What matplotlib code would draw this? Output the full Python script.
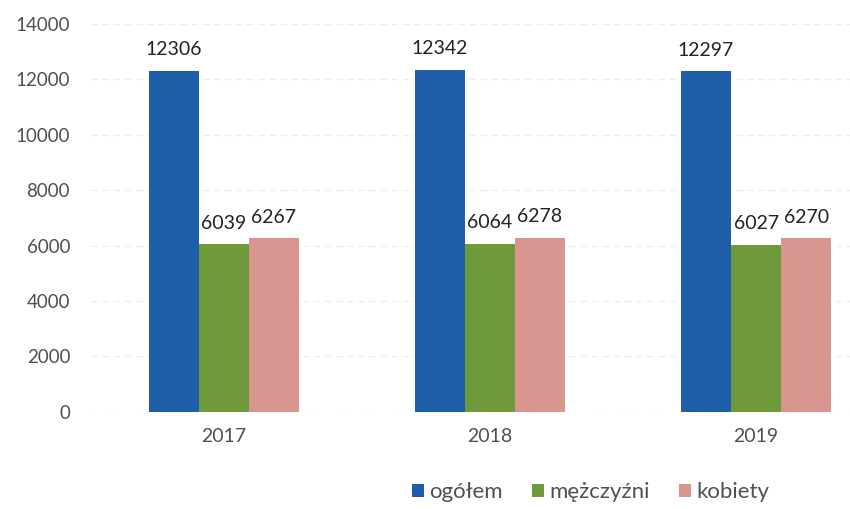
import matplotlib.pyplot as plt
import numpy as np

years = ['2017', '2018', '2019']
ogolem = [12306, 12342, 12297]
mezczyzni = [6039, 6064, 6027]
kobiety = [6267, 6278, 6270]

series = [
    ('ogółem', ogolem, '#1f5ea8'),
    ('mężczyźni', mezczyzni, '#6f9a3b'),
    ('kobiety', kobiety, '#d8968f'),
]

plt.rcParams['font.family'] = ['Lato', 'DejaVu Sans']
text_color = '#505050'

fig = plt.figure(figsize=(8.5, 5.09), dpi=100)
ax = fig.add_axes([0.107, 0.191, 0.939, 0.762])

x = np.arange(len(years))
w = 0.188
for i, (name, vals, col) in enumerate(series):
    pos = x + (i - 1) * w
    ax.bar(pos, vals, w, color=col, label=name, zorder=2)
    for px, v in zip(pos, vals):
        ax.text(px, v + 450, str(v), ha='center', va='bottom', fontsize=14, color='#222222')

ax.set_xlim(-0.5, 2.5)
ax.set_ylim(0, 14000)
ax.set_yticks(range(0, 14001, 2000))
ax.set_xticks(x)
ax.set_xticklabels(years)
ax.tick_params(axis='y', length=0, labelsize=13.5, colors=text_color, pad=15)
ax.tick_params(axis='x', length=0, labelsize=14, colors=text_color, pad=12)
ax.yaxis.grid(True, color='#ececec', linewidth=0.8, linestyle=(0, (6, 4)), zorder=0)
for s in ax.spines.values():
    s.set_visible(False)

fig.legend(loc='center', bbox_to_anchor=(0.695, 0.033), ncol=3, frameon=False,
           handlelength=0.55, handleheight=0.55, handletextpad=0.25, columnspacing=1.3,
           fontsize=16, labelcolor=text_color)

fig.savefig('out.png', dpi=100)
